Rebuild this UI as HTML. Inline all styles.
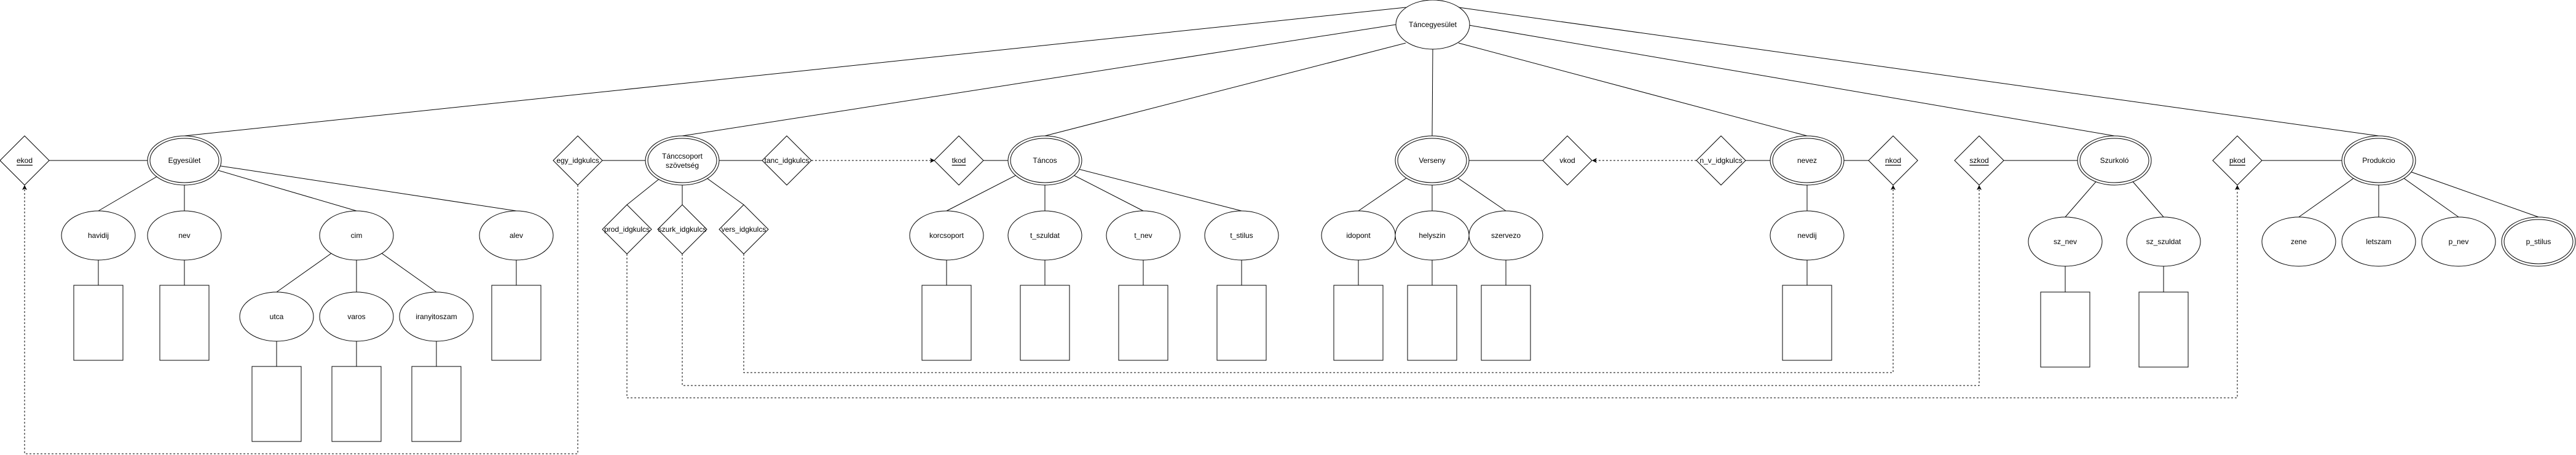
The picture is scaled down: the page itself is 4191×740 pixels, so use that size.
<!DOCTYPE html>
<html><head><meta charset="utf-8"><style>
html,body{margin:0;padding:0;background:#fff;}
svg{display:block;}
text{font-family:"Liberation Sans",sans-serif;font-size:12px;fill:#000;text-anchor:middle;dominant-baseline:central;}
</style></head><body>
<svg width="4191" height="740" viewBox="0 0 4191 740" xmlns="http://www.w3.org/2000/svg">
<defs>
<marker id="ar" markerWidth="8" markerHeight="8" refX="7" refY="4" orient="auto" markerUnits="userSpaceOnUse">
<path d="M0,0 L8,4 L0,8 L2,4 z" fill="#000"/>
</marker>
</defs>
<g stroke="#000" stroke-width="1" fill="none">
<line x1="2287" y1="12" x2="300" y2="221"/>
<line x1="2271" y1="40" x2="1110" y2="221"/>
<line x1="2287" y1="70" x2="1700" y2="221"/>
<line x1="2331" y1="80" x2="2330" y2="221"/>
<line x1="2373" y1="70" x2="2940" y2="221"/>
<line x1="2390" y1="41" x2="3440" y2="221"/>
<line x1="2373" y1="12" x2="3870" y2="221"/>
<line x1="80" y1="261" x2="240" y2="261"/>
<line x1="300" y1="261" x2="160" y2="343"/>
<line x1="300" y1="261" x2="300" y2="343"/>
<line x1="300" y1="261" x2="580" y2="343"/>
<line x1="300" y1="261" x2="840" y2="343"/>
<line x1="580" y1="383" x2="450" y2="475"/>
<line x1="580" y1="383" x2="580" y2="475"/>
<line x1="580" y1="383" x2="710" y2="475"/>
<line x1="160" y1="423" x2="160" y2="464"/>
<line x1="300" y1="423" x2="300" y2="464"/>
<line x1="840" y1="423" x2="840" y2="464"/>
<line x1="450" y1="555" x2="450" y2="596"/>
<line x1="580" y1="555" x2="580" y2="596"/>
<line x1="710" y1="555" x2="710" y2="596"/>
<line x1="980" y1="261" x2="1050" y2="261"/>
<line x1="1170" y1="261" x2="1240" y2="261"/>
<line x1="1110" y1="261" x2="1020" y2="333"/>
<line x1="1110" y1="261" x2="1110" y2="333"/>
<line x1="1110" y1="261" x2="1210" y2="333"/>
<line x1="1600" y1="261" x2="1640" y2="261"/>
<line x1="1700" y1="261" x2="1540" y2="343"/>
<line x1="1700" y1="261" x2="1700" y2="343"/>
<line x1="1700" y1="261" x2="1860" y2="343"/>
<line x1="1700" y1="261" x2="2020" y2="343"/>
<line x1="1540" y1="423" x2="1540" y2="464"/>
<line x1="1700" y1="423" x2="1700" y2="464"/>
<line x1="1860" y1="423" x2="1860" y2="464"/>
<line x1="2020" y1="423" x2="2020" y2="464"/>
<line x1="2390" y1="261" x2="2510" y2="261"/>
<line x1="2330" y1="261" x2="2210" y2="343"/>
<line x1="2330" y1="261" x2="2330" y2="343"/>
<line x1="2330" y1="261" x2="2450" y2="343"/>
<line x1="2210" y1="423" x2="2210" y2="464"/>
<line x1="2330" y1="423" x2="2330" y2="464"/>
<line x1="2450" y1="423" x2="2450" y2="464"/>
<line x1="2840" y1="261" x2="2880" y2="261"/>
<line x1="3000" y1="261" x2="3040" y2="261"/>
<line x1="2940" y1="261" x2="2940" y2="343"/>
<line x1="2940" y1="423" x2="2940" y2="464"/>
<line x1="3260" y1="261" x2="3380" y2="261"/>
<line x1="3440" y1="261" x2="3360" y2="353"/>
<line x1="3440" y1="261" x2="3520" y2="353"/>
<line x1="3360" y1="433" x2="3360" y2="475"/>
<line x1="3520" y1="433" x2="3520" y2="475"/>
<line x1="3680" y1="261" x2="3810" y2="261"/>
<line x1="3870" y1="261" x2="3740" y2="353"/>
<line x1="3870" y1="261" x2="3870" y2="353"/>
<line x1="3870" y1="261" x2="4000" y2="353"/>
<line x1="3870" y1="261" x2="4130" y2="353"/>
</g>
<g stroke="#000" stroke-width="1" fill="none" stroke-dasharray="3,3">
<path d="M940,301 V738 H40 V302" marker-end="url(#ar)"/>
<path d="M1210,413 V606 H3080 V302" marker-end="url(#ar)"/>
<path d="M1110,413 V627 H3220 V302" marker-end="url(#ar)"/>
<path d="M1020,413 V647 H3640 V302" marker-end="url(#ar)"/>
<path d="M1320,261 H1520" marker-end="url(#ar)"/>
<path d="M2760,261 H2591" marker-end="url(#ar)"/>
</g>
<g stroke="#000" stroke-width="1" fill="#fff">
<ellipse cx="2331" cy="40" rx="60" ry="40"/>
<ellipse cx="300" cy="261" rx="60" ry="40"/><ellipse cx="300" cy="261" rx="56" ry="36"/>
<ellipse cx="1110" cy="261" rx="60" ry="40"/><ellipse cx="1110" cy="261" rx="56" ry="36"/>
<ellipse cx="1700" cy="261" rx="60" ry="40"/><ellipse cx="1700" cy="261" rx="56" ry="36"/>
<ellipse cx="2330" cy="261" rx="60" ry="40"/><ellipse cx="2330" cy="261" rx="56" ry="36"/>
<ellipse cx="2940" cy="261" rx="60" ry="40"/><ellipse cx="2940" cy="261" rx="56" ry="36"/>
<ellipse cx="3440" cy="261" rx="60" ry="40"/><ellipse cx="3440" cy="261" rx="56" ry="36"/>
<ellipse cx="3870" cy="261" rx="60" ry="40"/><ellipse cx="3870" cy="261" rx="56" ry="36"/>
<ellipse cx="4130" cy="393" rx="60" ry="40"/><ellipse cx="4130" cy="393" rx="56" ry="36"/>
<ellipse cx="160" cy="383" rx="60" ry="40"/>
<ellipse cx="300" cy="383" rx="60" ry="40"/>
<ellipse cx="580" cy="383" rx="60" ry="40"/>
<ellipse cx="840" cy="383" rx="60" ry="40"/>
<ellipse cx="450" cy="515" rx="60" ry="40"/>
<ellipse cx="580" cy="515" rx="60" ry="40"/>
<ellipse cx="710" cy="515" rx="60" ry="40"/>
<ellipse cx="1540" cy="383" rx="60" ry="40"/>
<ellipse cx="1700" cy="383" rx="60" ry="40"/>
<ellipse cx="1860" cy="383" rx="60" ry="40"/>
<ellipse cx="2020" cy="383" rx="60" ry="40"/>
<ellipse cx="2210" cy="383" rx="60" ry="40"/>
<ellipse cx="2330" cy="383" rx="60" ry="40"/>
<ellipse cx="2450" cy="383" rx="60" ry="40"/>
<ellipse cx="2940" cy="383" rx="60" ry="40"/>
<ellipse cx="3360" cy="393" rx="60" ry="40"/>
<ellipse cx="3520" cy="393" rx="60" ry="40"/>
<ellipse cx="3740" cy="393" rx="60" ry="40"/>
<ellipse cx="3870" cy="393" rx="60" ry="40"/>
<ellipse cx="4000" cy="393" rx="60" ry="40"/>
<rect x="120" y="464" width="80" height="122"/>
<rect x="260" y="464" width="80" height="122"/>
<rect x="800" y="464" width="80" height="122"/>
<rect x="410" y="596" width="80" height="122"/>
<rect x="540" y="596" width="80" height="122"/>
<rect x="670" y="596" width="80" height="122"/>
<rect x="1500" y="464" width="80" height="122"/>
<rect x="1660" y="464" width="80" height="122"/>
<rect x="1820" y="464" width="80" height="122"/>
<rect x="1980" y="464" width="80" height="122"/>
<rect x="2170" y="464" width="80" height="122"/>
<rect x="2290" y="464" width="80" height="122"/>
<rect x="2410" y="464" width="80" height="122"/>
<rect x="2900" y="464" width="80" height="122"/>
<rect x="3320" y="475" width="80" height="122"/>
<rect x="3480" y="475" width="80" height="122"/>
<polygon points="40,221 80,261 40,301 0,261"/>
<polygon points="940,221 980,261 940,301 900,261"/>
<polygon points="1280,221 1320,261 1280,301 1240,261"/>
<polygon points="1560,221 1600,261 1560,301 1520,261"/>
<polygon points="1020,333 1060,373 1020,413 980,373"/>
<polygon points="1110,333 1150,373 1110,413 1070,373"/>
<polygon points="1210,333 1250,373 1210,413 1170,373"/>
<polygon points="2550,221 2590,261 2550,301 2510,261"/>
<polygon points="2800,221 2840,261 2800,301 2760,261"/>
<polygon points="3080,221 3120,261 3080,301 3040,261"/>
<polygon points="3220,221 3260,261 3220,301 3180,261"/>
<polygon points="3640,221 3680,261 3640,301 3600,261"/>
</g>
<g>
<text x="2331" y="40">Táncegyesület</text>
<text x="300" y="261">Egyesület</text>
<text x="1110" y="254">Tánccsoport</text>
<text x="1110" y="269">szövetség</text>
<text x="1700" y="261">Táncos</text>
<text x="2330" y="261">Verseny</text>
<text x="2940" y="261">nevez</text>
<text x="3440" y="261">Szurkoló</text>
<text x="3870" y="261">Produkcio</text>
<text x="4130" y="393">p_stilus</text>
<text x="160" y="383">havidij</text>
<text x="300" y="383">nev</text>
<text x="580" y="383">cim</text>
<text x="840" y="383">alev</text>
<text x="450" y="515">utca</text>
<text x="580" y="515">varos</text>
<text x="710" y="515">iranyitoszam</text>
<text x="1540" y="383">korcsoport</text>
<text x="1700" y="383">t_szuldat</text>
<text x="1860" y="383">t_nev</text>
<text x="2020" y="383">t_stilus</text>
<text x="2210" y="383">idopont</text>
<text x="2330" y="383">helyszin</text>
<text x="2450" y="383">szervezo</text>
<text x="2940" y="383">nevdij</text>
<text x="3360" y="393">sz_nev</text>
<text x="3520" y="393">sz_szuldat</text>
<text x="3740" y="393">zene</text>
<text x="3870" y="393">letszam</text>
<text x="4000" y="393">p_nev</text>
<text x="40" y="261" text-decoration="underline">ekod</text>
<text x="940" y="261">egy_idgkulcs</text>
<text x="1280" y="261">tanc_idgkulcs</text>
<text x="1560" y="261" text-decoration="underline">tkod</text>
<text x="1020" y="373">prod_idgkulcs</text>
<text x="1110" y="373">szurk_idgkulcs</text>
<text x="1210" y="373">vers_idgkulcs</text>
<text x="2550" y="261">vkod</text>
<text x="2800" y="261">n_v_idgkulcs</text>
<text x="3080" y="261" text-decoration="underline">nkod</text>
<text x="3220" y="261" text-decoration="underline">szkod</text>
<text x="3640" y="261" text-decoration="underline">pkod</text>
</g>
</svg>
</body></html>
